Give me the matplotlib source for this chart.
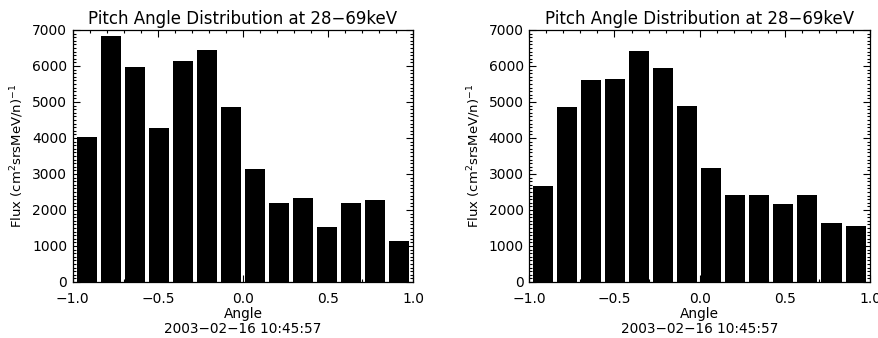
import numpy as np
import matplotlib
matplotlib.use("Agg")
import matplotlib.pyplot as plt
from matplotlib.ticker import MultipleLocator, FuncFormatter

# cos(pitch angle) bin centres
angle = [-0.918, -0.777, -0.636, -0.495, -0.354, -0.213, -0.072,
         0.069, 0.210, 0.351, 0.492, 0.633, 0.774, 0.916]
bar_w = 0.118

# flux in each bin, two panels
flux_left = [4030, 6830, 5980, 4280, 6140, 6440, 4870,
             3130, 2200, 2330, 1520, 2200, 2270, 1140]
flux_right = [2660, 4860, 5610, 5640, 6420, 5940, 4890,
              3160, 2410, 2410, 2160, 2410, 1630, 1550]

title = "Pitch Angle Distribution at 28\u221269keV"
ylab = r"Flux (cm$^2$srsMeV/n)$^{-1}$"
stamp = "2003\u221202\u221216 10:45:57"

plt.rcParams["font.family"] = ["DejaVu Sans"]

fig = plt.figure(figsize=(8.79, 3.38), dpi=100)
fig.patch.set_facecolor("white")

xfmt = FuncFormatter(lambda v, p: ("%.1f" % v).replace("-", "\u2212"))

panels = [(0.0827, flux_left), (0.6022, flux_right)]
for x0, flux in panels:
    ax = fig.add_axes([x0, 0.1657, 0.3875, 0.7456])
    ax.bar(angle, flux, width=bar_w, color="black", linewidth=0)
    ax.set_xlim(-1, 1)
    ax.set_ylim(0, 7000)
    ax.xaxis.set_major_locator(MultipleLocator(0.5))
    ax.xaxis.set_minor_locator(MultipleLocator(0.1))
    ax.yaxis.set_major_locator(MultipleLocator(1000))
    ax.yaxis.set_minor_locator(MultipleLocator(100))
    ax.xaxis.set_major_formatter(xfmt)
    ax.tick_params(which="both", direction="in", top=True, right=True,
                   width=0.8, labelsize=10)
    ax.tick_params(which="major", length=5)
    ax.tick_params(which="minor", length=2.5)
    ax.tick_params(axis="x", pad=7)
    ax.tick_params(axis="y", pad=4)
    for s in ax.spines.values():
        s.set_linewidth(0.9)
    ax.set_title(title, fontsize=12, pad=4)
    ax.set_ylabel(ylab, fontsize=9.5, labelpad=4)
    ax.set_xlabel("Angle\n" + stamp, fontsize=9.8, labelpad=1, linespacing=1.1)

fig.savefig("out.png", dpi=100)
